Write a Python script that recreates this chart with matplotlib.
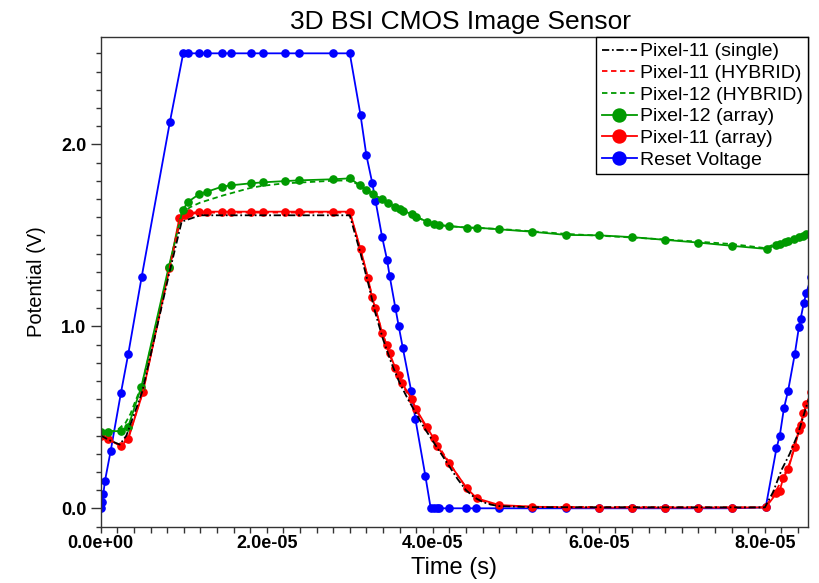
import matplotlib
matplotlib.use("Agg")
import matplotlib.pyplot as plt
from matplotlib.ticker import MultipleLocator, FormatStrFormatter
import numpy as np

plt.rcParams['font.family'] = ['Liberation Sans', 'DejaVu Sans']

# ---- data: times in microseconds, potentials in volts ----
t_reset = [0, 0.12, 0.31, 0.52, 1.2, 2.44, 3.32, 4.93, 8.34, 9.94, 10.54, 11.87, 12.83,
           14.56, 15.72, 18.12, 19.49, 22.18, 23.9, 27.99, 30.0, 31.3, 32.0, 32.7, 33.1,
           33.9, 34.5, 34.8, 35.5, 35.9, 36.4, 37.4, 37.9, 39.1, 39.75, 40.2, 40.5, 40.8,
           41.9, 44.0, 45.2, 48.0, 52.0, 56.0, 60.0, 64.0, 68.0, 72.0, 76.0, 80.1, 81.4,
           81.8, 82.3, 82.8, 83.6, 84.1, 84.3, 84.7, 85.0, 85.6]
v_reset = [0, 0.036, 0.077, 0.152, 0.315, 0.635, 0.848, 1.27, 2.124, 2.5, 2.5, 2.5, 2.5,
           2.5, 2.5, 2.5, 2.5, 2.5, 2.5, 2.5, 2.5, 2.16, 1.94, 1.79, 1.69,
           1.49, 1.364, 1.278, 1.10, 1.0, 0.879, 0.645, 0.492, 0.18, 0, 0, 0, 0,
           0, 0, 0, 0, 0, 0, 0, 0, 0, 0, 0, 0.005, 0.33,
           0.40, 0.55, 0.646, 0.846, 0.995, 1.04, 1.13, 1.185, 1.27]

t_px11_arr = [0, 0.92, 2.4, 3.3, 5.1, 8.27, 9.47, 10.16, 10.6, 11.87, 12.83, 14.56, 15.72,
              18.12, 19.49, 22.18, 23.9, 27.99, 30.0, 31.3, 32.2, 32.65, 33.1, 33.9, 34.45,
              34.8, 35.5, 35.9, 36.3, 37.5, 38.0, 39.3, 40.1, 40.5, 42.0, 44.1, 45.3, 48.0,
              51.9, 56.1, 60.0, 64.0, 68.0, 72.0, 76.0, 80.1, 81.4, 81.8, 82.2, 82.8, 83.6,
              84.1, 84.3, 84.65, 85.0, 85.6]
v_px11_arr = [0.397, 0.379, 0.342, 0.379, 0.64, 1.319, 1.593, 1.611, 1.62, 1.63, 1.63, 1.63, 1.63,
              1.63, 1.63, 1.63, 1.63, 1.63, 1.63, 1.423, 1.267, 1.163, 1.099, 0.965, 0.897,
              0.852, 0.769, 0.732, 0.687, 0.599, 0.544, 0.445, 0.385, 0.342, 0.247, 0.110, 0.055, 0.018,
              0.009, 0.005, 0.004, 0.004, 0.004, 0.004, 0.004, 0.005, 0.082, 0.097, 0.165, 0.214, 0.335,
              0.43, 0.458, 0.522, 0.573, 0.64]

t_px12_arr = [0, 0.92, 2.4, 3.3, 4.9, 8.2, 9.88, 10.56, 11.88, 12.85, 14.58, 15.73, 18.14,
              19.5, 22.2, 23.9, 28.0, 30.0, 31.2, 32.0, 32.8, 33.85, 34.65, 35.45, 36.05,
              36.45, 37.5, 38.0, 39.3, 40.1, 40.7, 41.96, 44.1, 45.3, 48.0, 51.9, 56.1, 60.0,
              64.0, 68.0, 72.0, 76.1, 80.2, 81.4, 81.8, 82.4, 82.8, 83.5, 84.1, 84.65, 85.0, 85.6]
v_px12_arr = [0.421, 0.422, 0.425, 0.448, 0.668, 1.327, 1.64, 1.685, 1.727, 1.74, 1.767, 1.775, 1.786,
              1.791, 1.798, 1.802, 1.808, 1.813, 1.776, 1.749, 1.727, 1.698, 1.676, 1.657, 1.644,
              1.635, 1.615, 1.602, 1.575, 1.562, 1.557, 1.551, 1.542, 1.542, 1.533, 1.52, 1.502, 1.50,
              1.49, 1.475, 1.46, 1.442, 1.425, 1.447, 1.455, 1.466, 1.47, 1.478, 1.489, 1.497, 1.505, 1.515]

t_px11_single = [0, 1.0, 2.3, 3.1, 5.0, 8.3, 9.75, 12.0, 30.0, 31.3, 32.2, 33.1, 34.0, 35.0,
                 36.0, 37.0, 38.0, 39.0, 40.0, 41.0, 42.0, 43.0, 44.0, 45.0, 46.0, 47.0, 48.0,
                 52.0, 80.0, 81.0, 82.0, 83.0, 84.0, 85.0, 85.6]
v_px11_single = [0.40, 0.375, 0.35, 0.40, 0.64, 1.30, 1.575, 1.61, 1.61, 1.40, 1.24, 1.07, 0.93, 0.80,
                 0.69, 0.60, 0.52, 0.44, 0.37, 0.30, 0.23, 0.16, 0.10, 0.06, 0.035, 0.02, 0.012,
                 0.006, 0.005, 0.09, 0.21, 0.30, 0.41, 0.56, 0.64]

t_px11_hyb = [0, 1.0, 2.4, 3.3, 5.1, 8.3, 9.6, 10.5, 12.0, 30.0, 31.3, 32.2, 33.1, 34.0, 35.0,
              36.0, 37.0, 38.0, 39.0, 40.0, 41.0, 42.0, 43.0, 44.0, 45.0, 46.0, 47.0, 48.0,
              52.0, 80.0, 81.0, 82.0, 83.0, 84.0, 85.0, 85.6]
v_px11_hyb = [0.40, 0.38, 0.345, 0.385, 0.645, 1.32, 1.59, 1.615, 1.625, 1.625, 1.42, 1.26, 1.09, 0.955, 0.82,
              0.71, 0.625, 0.54, 0.46, 0.39, 0.32, 0.25, 0.18, 0.115, 0.065, 0.04, 0.025, 0.015,
              0.008, 0.005, 0.07, 0.15, 0.25, 0.41, 0.57, 0.64]

t_px12_hyb = [0, 1.0, 2.0, 3.0, 3.6, 4.1, 5.0, 8.2, 9.7, 10.8, 12.0, 14.8, 18.0, 19.5, 22.0,
              28.0, 30.0, 31.2, 32.0, 33.0, 34.0, 35.0, 36.0, 37.0, 38.0, 39.0, 40.0, 41.0,
              42.0, 44.0, 48.0, 52.0, 56.0, 60.0, 64.0, 68.0, 72.0, 76.0, 80.0, 81.0, 82.0,
              83.0, 84.0, 85.0, 85.6]
v_px12_hyb = [0.42, 0.42, 0.43, 0.47, 0.52, 0.58, 0.68, 1.31, 1.62, 1.655, 1.68, 1.72, 1.76, 1.772, 1.785,
              1.80, 1.802, 1.775, 1.75, 1.72, 1.695, 1.665, 1.645, 1.625, 1.602, 1.58, 1.565, 1.555,
              1.55, 1.543, 1.535, 1.522, 1.508, 1.498, 1.488, 1.477, 1.465, 1.452, 1.43, 1.448, 1.46,
              1.475, 1.49, 1.505, 1.515]

BLUE = '#0000ff'
RED = '#ff0000'
GREEN = '#009a00'

us = 1e-6
fig = plt.figure(figsize=(8.2, 5.83), dpi=100)
ax = fig.add_axes([0.1228, 0.0966, 0.8626, 0.8394])

mk = dict(marker='o', markersize=5.2, linewidth=1.3)
h_reset, = ax.plot(np.array(t_reset) * us, v_reset, color=BLUE, label='Reset Voltage', **mk)
h_p11a, = ax.plot(np.array(t_px11_arr) * us, v_px11_arr, color=RED, label='Pixel-11 (array)', **mk)
h_p12a, = ax.plot(np.array(t_px12_arr) * us, v_px12_arr, color=GREEN, label='Pixel-12 (array)', **mk)
h_p12h, = ax.plot(np.array(t_px12_hyb) * us, v_px12_hyb, color=GREEN, linewidth=1.3,
                  linestyle=(0, (3, 2)), label='Pixel-12 (HYBRID)')
h_p11h, = ax.plot(np.array(t_px11_hyb) * us, v_px11_hyb, color=RED, linewidth=1.3,
                  linestyle=(0, (3, 2)), label='Pixel-11 (HYBRID)')
h_p11s, = ax.plot(np.array(t_px11_single) * us, v_px11_single, color='black', linewidth=1.3,
                  linestyle=(0, (4, 1.5, 1, 1.5)), label='Pixel-11 (single)')

ax.set_xlim(0, 85.2e-6)
ax.set_ylim(-0.101, 2.588)

ax.xaxis.set_major_locator(MultipleLocator(2e-5))
ax.xaxis.set_minor_locator(MultipleLocator(2e-6))
ax.xaxis.set_major_formatter(FormatStrFormatter('%.1e'))
ax.yaxis.set_major_locator(MultipleLocator(1.0))
ax.yaxis.set_minor_locator(MultipleLocator(0.1))
ax.yaxis.set_major_formatter(FormatStrFormatter('%.1f'))

ax.tick_params(axis='both', which='both', direction='out', colors='#333333',
               labelcolor='black', width=1.0)
ax.tick_params(axis='y', which='major', length=7.2, pad=3)
ax.tick_params(axis='y', which='minor', length=3.6)
ax.tick_params(axis='x', which='major', length=4.3, pad=2)
ax.tick_params(axis='x', which='minor', length=4.3)
for lab in ax.get_xticklabels() + ax.get_yticklabels():
    lab.set_fontsize(13)
    lab.set_fontweight('bold')

for sp in ax.spines.values():
    sp.set_color('#333333')
    sp.set_linewidth(1.0)

ax.set_title('3D BSI CMOS Image Sensor', fontsize=19, pad=6, x=0.508)
ax.set_xlabel('Time (s)', fontsize=17, labelpad=3)
ax.set_ylabel('Potential (V)', fontsize=14.5, labelpad=11)

leg = ax.legend(handles=[h_p11s, h_p11h, h_p12h, h_p12a, h_p11a, h_reset],
                loc='upper right', fontsize=14, frameon=True, fancybox=False,
                edgecolor='black', framealpha=1.0, borderaxespad=0.0,
                handlelength=1.8, handletextpad=0.15, labelspacing=0.21,
                borderpad=0.28, markerscale=1.8)
leg.get_frame().set_linewidth(1.0)

fig.savefig('out.png', dpi=100)
